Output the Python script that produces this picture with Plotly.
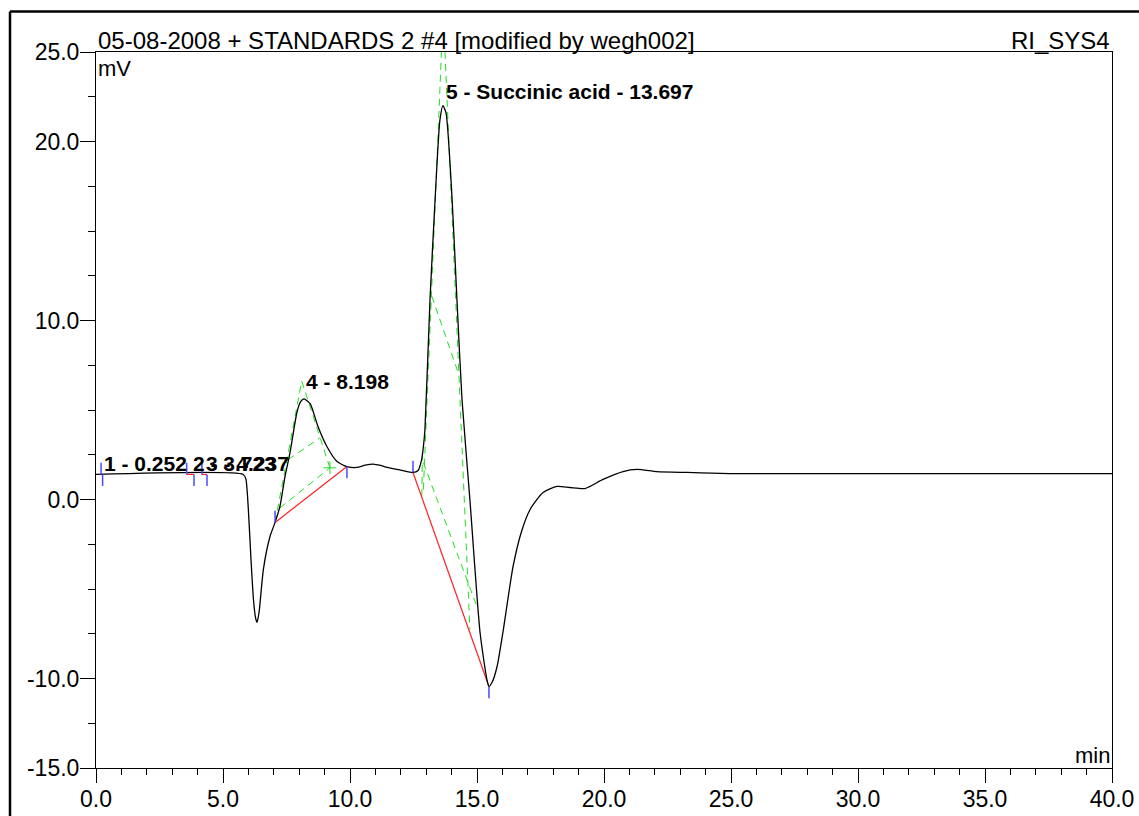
import plotly.graph_objects as go

# ---- chromatogram signal (min, mV) ----
time_min = [0.0, 5.80, 5.90, 6.00, 6.10, 6.20, 6.28, 6.34, 6.42, 6.59, 6.85, 7.05, 7.24, 7.44,
            7.64, 7.91, 8.05, 8.19, 8.43, 8.74, 9.09, 9.49, 9.88, 10.28, 10.60, 10.91, 11.20,
            11.46, 12.00, 12.48, 12.68, 12.82, 12.89, 12.95, 13.15, 13.35, 13.54, 13.66, 13.78,
            14.02, 14.21, 14.41, 14.72, 15.12, 15.39, 15.47, 15.60, 15.79, 16.02, 16.42, 16.75,
            17.09, 17.60, 18.15, 18.66, 19.25, 19.96, 20.75, 21.30, 22.08, 23.27, 24.96, 40.0]
signal_mv = [1.40, 1.40, 1.15, -0.60, -3.30, -5.60, -6.60, -6.87, -6.30, -3.90, -2.07, -1.28,
             -0.39, 1.28, 2.63, 4.86, 5.45, 5.62, 5.35, 4.08, 2.96, 2.12, 1.84, 1.79, 1.92, 1.98,
             1.90, 1.79, 1.64, 1.51, 1.62, 2.23, 2.96, 3.91, 11.17, 16.76, 21.20, 22.00, 21.60,
             16.76, 11.17, 5.59, 0.00, -7.43, -10.06, -10.45, -10.20, -9.33, -7.43, -3.74, -1.80,
             -0.56, 0.39, 0.73, 0.67, 0.61, 1.12, 1.56, 1.68, 1.56, 1.51, 1.45, 1.45]

# ---- peak table ----
peak_no = [1, 2, 3, 4, 5]
peak_label = ["1 - 0.252", "2 - 3.723", "3 - 4.237", "4 - 8.198", "5 - Succinic acid - 13.697"]
peak_rt = [0.252, 3.723, 4.237, 8.198, 13.697]
peak_label_y = [1.45, 1.45, 1.45, 6.0, 22.2]
peak_start = [0.20, 3.57, 4.17, 7.05, 12.48]
peak_start_y = [1.40, 1.40, 1.40, -1.28, 1.51]
peak_end = [0.26, 3.86, 4.37, 9.88, 15.47]
peak_end_y = [1.40, 1.40, 1.40, 1.84, -10.45]

# ---- integration skim/tangent lines (x0, y0, x1, y1) ----
skim_x0 = [7.05, 8.10, 7.57, 7.24, 12.89, 13.74, 13.22, 12.89, 12.85]
skim_y0 = [-1.28, 6.61, 2.23, -0.47, 0.56, 25.0, 11.36, 2.05, 2.60]
skim_x1 = [8.10, 9.21, 8.82, 9.21, 13.60, 14.72, 14.26, 14.99, 12.83]
skim_y1 = [6.61, 1.77, 3.45, 1.77, 25.0, -7.26, 7.08, -5.96, 0.20]

x_ticks = [0, 5, 10, 15, 20, 25, 30, 35, 40]
y_ticks = [-15, -10, 0, 10, 20, 25]

FONT = "Arial, Liberation Sans, sans-serif"
W, H = 1139, 816
ML, MR, MT, MB = 96, 27, 52, 48
pw, ph = W - ML - MR, H - MT - MB

fig = go.Figure()

# green dashed skim lines
for i in range(len(skim_x0)):
    fig.add_trace(go.Scatter(x=[skim_x0[i], skim_x1[i]], y=[skim_y0[i], skim_y1[i]],
                             mode="lines", line=dict(color="#22dd22", width=1, dash="7px,5px"),
                             hoverinfo="skip", showlegend=False))
fig.add_trace(go.Scatter(x=[skim_x1[3]], y=[skim_y1[3]], mode="markers",
                         marker=dict(symbol="cross-thin", size=9, line=dict(color="#22dd22", width=1)),
                         hoverinfo="skip", showlegend=False))

# red baselines
for i in range(len(peak_no)):
    fig.add_trace(go.Scatter(x=[peak_start[i], peak_end[i]], y=[peak_start_y[i], peak_end_y[i]],
                             mode="lines", line=dict(color="#ff2020", width=1.2),
                             hoverinfo="skip", showlegend=False))

# signal
fig.add_trace(go.Scatter(x=time_min, y=signal_mv, mode="lines",
                         line=dict(color="black", width=1.3, shape="spline", smoothing=0.6),
                         showlegend=False))

# blue start/end markers
mk = 0.65
for i in range(len(peak_no)):
    fig.add_trace(go.Scatter(x=[peak_start[i], peak_start[i]], y=[peak_start_y[i], peak_start_y[i] + mk],
                             mode="lines", line=dict(color="#4a4aff", width=1.5),
                             hoverinfo="skip", showlegend=False))
    fig.add_trace(go.Scatter(x=[peak_end[i], peak_end[i]], y=[peak_end_y[i], peak_end_y[i] - mk],
                             mode="lines", line=dict(color="#4a4aff", width=1.5),
                             hoverinfo="skip", showlegend=False))

annotations = []
for i in range(len(peak_no)):
    annotations.append(dict(x=peak_rt[i], y=peak_label_y[i], xref="x", yref="y",
                            text=peak_label[i], showarrow=False, xanchor="left", yanchor="bottom",
                            xshift=0, yshift=-3,
                            font=dict(family=FONT, size=21, color="black", weight="bold")))

annotations += [
    dict(x=0, y=1, xref="paper", yref="paper", text="05-08-2008 + STANDARDS 2 #4 [modified by wegh002]",
         showarrow=False, xanchor="left", yanchor="bottom", yshift=-4,
         font=dict(family=FONT, size=24, color="black")),
    dict(x=1, y=1, xref="paper", yref="paper", text="RI_SYS4",
         showarrow=False, xanchor="right", yanchor="bottom", yshift=-4,
         font=dict(family=FONT, size=24, color="black")),
    dict(x=0, y=1, xref="paper", yref="paper", text="mV",
         showarrow=False, xanchor="left", yanchor="top", yshift=-2,
         font=dict(family=FONT, size=22, color="black")),
    dict(x=1, y=0, xref="paper", yref="paper", text="min",
         showarrow=False, xanchor="right", yanchor="bottom", yshift=-2,
         font=dict(family=FONT, size=22, color="black")),
]

fx = (10 - ML) / pw
fy = 1 + (MT - 11.5) / ph
shapes = [
    dict(type="line", xref="paper", yref="paper", x0=fx, x1=fx, y0=-0.2, y1=fy,
         line=dict(color="black", width=2.5)),
    dict(type="line", xref="paper", yref="paper", x0=fx, x1=1.2, y0=fy, y1=fy,
         line=dict(color="black", width=2.5)),
]

fig.update_layout(
    width=W, height=H,
    margin=dict(l=ML, r=MR, t=MT, b=MB, pad=0, autoexpand=False),
    paper_bgcolor="white", plot_bgcolor="white",
    font=dict(family=FONT, size=22, color="black"),
    annotations=annotations, shapes=shapes,
    xaxis=dict(range=[0, 40], tickvals=x_ticks, ticktext=[f"{v:.1f}" for v in x_ticks],
               ticks="outside", ticklen=14, tickwidth=1, tickcolor="black", automargin=False,
               ticklabelstandoff=-4,
               minor=dict(dtick=1, tick0=0, ticks="outside", ticklen=6, tickcolor="black", tickwidth=1),
               showgrid=False, zeroline=False, showline=True, linecolor="black", linewidth=1,
               mirror=True, tickfont=dict(size=23)),
    yaxis=dict(range=[-15, 25], tickvals=y_ticks, ticktext=[f"{v:.1f}" for v in y_ticks],
               ticks="outside", ticklen=15, tickwidth=1, tickcolor="black", automargin=False,
               ticklabelstandoff=-4,
               minor=dict(dtick=2.5, tick0=0, ticks="outside", ticklen=7, tickcolor="black", tickwidth=1),
               showgrid=False, zeroline=False, showline=True, linecolor="black", linewidth=1,
               mirror=True, tickfont=dict(size=23)),
)

fig.write_html("out.html")
